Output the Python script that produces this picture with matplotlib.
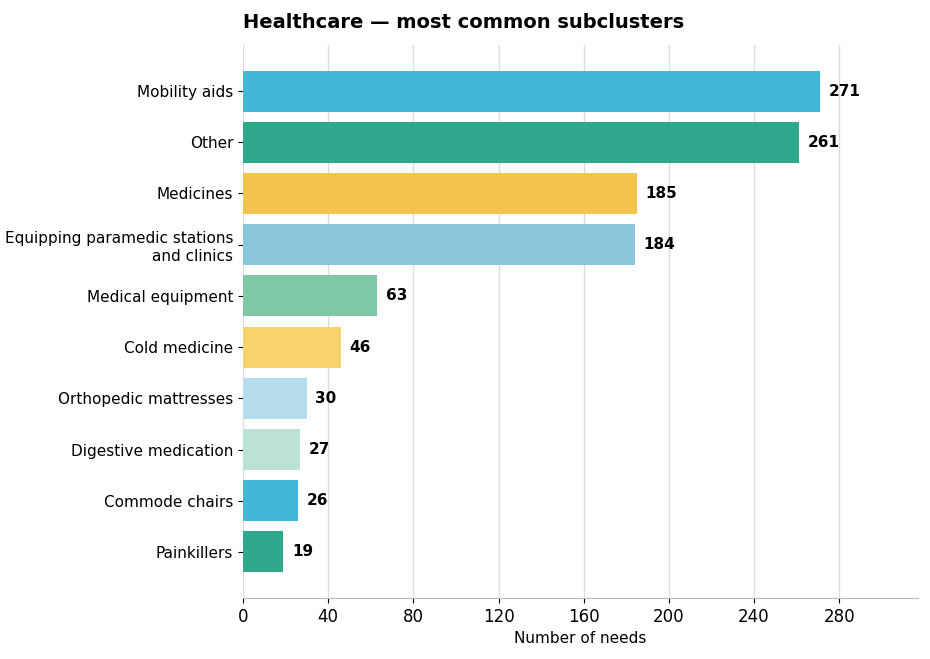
import matplotlib
matplotlib.use("Agg")
import matplotlib.pyplot as plt

# data, top to bottom
labels = ["Mobility aids", "Other", "Medicines",
          "Equipping paramedic stations\nand clinics", "Medical equipment",
          "Cold medicine", "Orthopedic mattresses", "Digestive medication",
          "Commode chairs", "Painkillers"]
counts = [271, 261, 185, 184, 63, 46, 30, 27, 26, 19]
colors = ["#42B7D7", "#2EA98B", "#F3C54E", "#8BC6DC", "#7FC8A6",
          "#F6D36B", "#B6DDEB", "#BAE3D6", "#42B7D7", "#2EA98B"]
xticks = [0, 40, 80, 120, 160, 200, 240, 280]

fig = plt.figure(figsize=(9.3, 6.59), dpi=100)
ax = fig.add_axes([243 / 930, 1 - 598 / 659, (918 - 243) / 930, (598 - 45) / 659])

pos = list(range(len(labels)))[::-1]
ax.barh(pos, counts, height=0.8, color=colors, zorder=3)
for p, c in zip(pos, counts):
    ax.text(c + 4, p, str(c), va="center", ha="left", fontsize=11, fontweight="bold")

ax.set_yticks(pos)
ax.set_yticklabels(labels, fontsize=11)
ax.set_xticks(xticks)
ax.tick_params(axis="x", labelsize=12)
ax.set_xlim(0, 317)
ax.set_ylim(-0.9, 9.9)
ax.grid(axis="x", color="#dddddd", linewidth=1, zorder=0)
for s in ["top", "right", "left"]:
    ax.spines[s].set_visible(False)
ax.spines["bottom"].set_color("#bbbbbb")
ax.set_xlabel("Number of needs", fontsize=11)
ax.set_title("Healthcare — most common subclusters", loc="left",
             fontsize=14, fontweight="bold", pad=12)

fig.savefig("out.png", dpi=100)
